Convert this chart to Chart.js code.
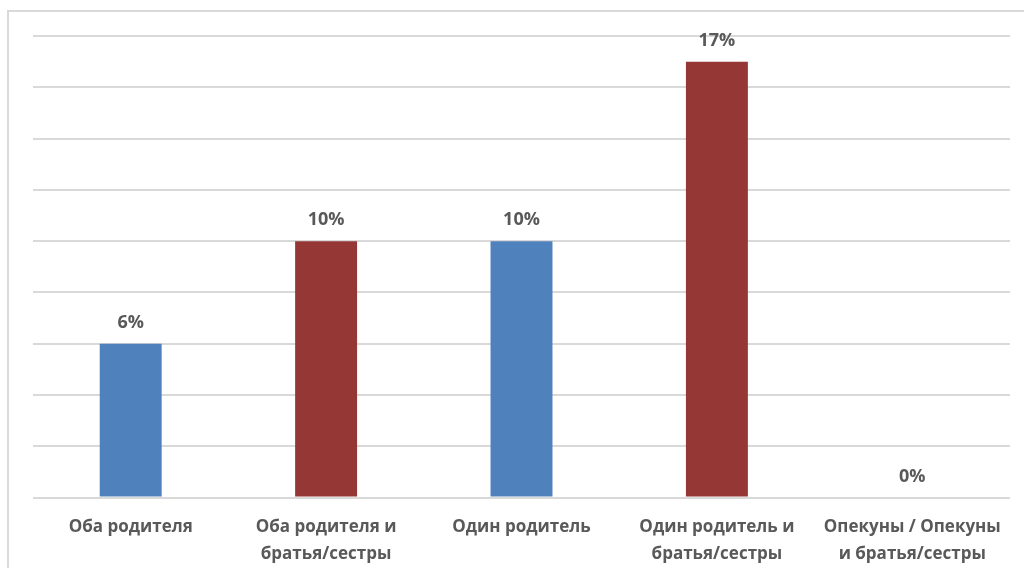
<!DOCTYPE html>
<html>
<head>
<meta charset="utf-8">
<script src="https://cdn.jsdelivr.net/npm/chart.js@4"></script>
<style>
  html, body { margin: 0; padding: 0; background: #fff; overflow: hidden; }
  #frame { position: absolute; left: 7px; top: 10px; width: 1100px; height: 700px; border: 2px solid #d9d9d9; }
  #wrap { position: absolute; left: 0; top: 0; width: 1024px; height: 568px; }
</style>
</head>
<body>
<div id="frame"></div>
<div id="wrap"><canvas id="myChart"></canvas></div>
<script>
const categories = [
  ['Оба родителя'],
  ['Оба родителя и', 'братья/сестры'],
  ['Один родитель'],
  ['Один родитель и', 'братья/сестры'],
  ['Опекуны / Опекуны', 'и братья/сестры']
];
const values = [6, 10, 10, 17, 0];
const barColors = ['#4F81BD', '#953735', '#4F81BD', '#953735', '#4F81BD'];

const FONT = "'Open Sans', 'Liberation Sans', sans-serif";

// percent labels above each bar
const valueLabels = {
  id: 'valueLabels',
  afterDatasetsDraw(chart) {
    const c = chart.ctx;
    const meta = chart.getDatasetMeta(0);
    c.save();
    c.font = 'bold 18px ' + FONT;
    c.fillStyle = '#595959';
    c.textAlign = 'center';
    c.textBaseline = 'middle';
    meta.data.forEach((bar, i) => {
      c.fillText(values[i] + '%', bar.x, bar.y - 21);
    });
    c.restore();
  }
};

const ctx = document.getElementById('myChart');

new Chart(ctx, {
  type: 'bar',
  data: {
    labels: categories,
    datasets: [{
      data: values,
      backgroundColor: barColors,
      categoryPercentage: 1,
      barPercentage: 0.317
    }]
  },
  options: {
    responsive: true,
    maintainAspectRatio: false,
    animation: false,
    layout: { padding: { left: 33, right: 14, top: 36, bottom: -8 } },
    plugins: { legend: { display: false }, tooltip: { enabled: false } },
    scales: {
      x: {
        grid: { display: false },
        border: { display: false },
        ticks: {
          color: '#595959',
          padding: 8,
          maxRotation: 0,
          font: { family: FONT, size: 17, weight: 'bold', lineHeight: 1.6 }
        }
      },
      y: {
        min: 0,
        max: 18,
        ticks: { display: false, stepSize: 2 },
        border: { display: false },
        grid: { color: '#d9d9d9', lineWidth: 2, drawTicks: false }
      }
    }
  },
  plugins: [valueLabels]
});
</script>
</body>
</html>
